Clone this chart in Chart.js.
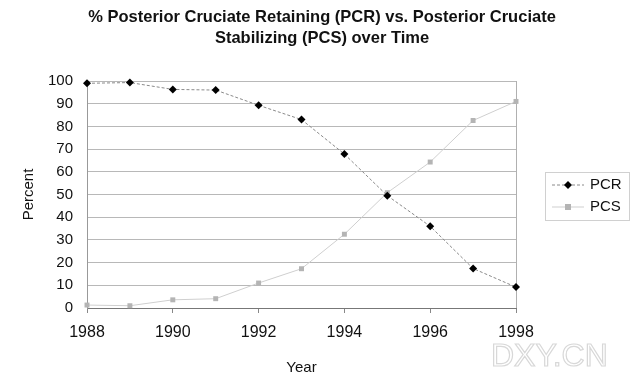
<!DOCTYPE html>
<html>
<head>
<meta charset="utf-8">
<script src="https://cdn.jsdelivr.net/npm/chart.js@4"></script>
<style>
  html, body { margin: 0; padding: 0; background: #fff; }
  #wrap { width: 640px; height: 381px; }
</style>
</head>
<body>
<div id="wrap"><canvas id="chart" width="640" height="381"></canvas></div>
<script>
// chart data
const years = [1988, 1989, 1990, 1991, 1992, 1993, 1994, 1995, 1996, 1997, 1998];
const pcrValues = [99, 99.3, 96.3, 96, 89.3, 83, 67.8, 49.5, 36, 17.4, 9.2];
const pcsValues = [1.3, 1, 3.6, 4.1, 11, 17.3, 32.5, 50.8, 64.3, 82.6, 91];
const titleLines = ["% Posterior Cruciate Retaining (PCR) vs. Posterior Cruciate", "Stabilizing (PCS) over Time"];
const seriesNames = ["PCR", "PCS"];

const FONT = "'Liberation Sans', Arial, sans-serif";

// title, legend box and watermark are drawn by hand
const extras = {
    id: "extras",
    afterDraw(chart) {
        const ctx = chart.ctx;
        ctx.save();
        // title
        ctx.fillStyle = "#111";
        ctx.font = "bold 16.5px " + FONT;
        ctx.textAlign = "center";
        ctx.textBaseline = "middle";
        ctx.fillText(titleLines[0], 322, 17);
        ctx.fillText(titleLines[1], 322, 38);

        // legend
        ctx.strokeStyle = "#d0d0d0";
        ctx.lineWidth = 1;
        ctx.strokeRect(545.5, 172.5, 84, 48);
        chart.data.datasets.forEach((ds, i) => {
            const y = 185 + i * 22;
            ctx.strokeStyle = ds.borderColor;
            ctx.setLineDash(ds.borderDash || []);
            ctx.beginPath();
            ctx.moveTo(552, y);
            ctx.lineTo(584, y);
            ctx.stroke();
            ctx.setLineDash([]);
            ctx.fillStyle = ds.pointBackgroundColor;
            if (i === 0) {
                ctx.beginPath();
                ctx.moveTo(568, y - 4);
                ctx.lineTo(572, y);
                ctx.lineTo(568, y + 4);
                ctx.lineTo(564, y);
                ctx.closePath();
                ctx.fill();
            } else {
                ctx.fillRect(565, y - 3, 6, 6);
            }
            ctx.fillStyle = "#111";
            ctx.font = "15px " + FONT;
            ctx.textAlign = "left";
            ctx.fillText(seriesNames[i], 590, y);
        });

        // watermark
        ctx.strokeStyle = "#d8d8d8";
        ctx.lineWidth = 1.2;
        ctx.font = "32px " + FONT;
        ctx.textAlign = "left";
        ctx.strokeText("DXY.CN", 491, 357);
        ctx.restore();
    }
};

new Chart(document.getElementById("chart"), {
    type: "line",
    data: {
        datasets: [
            {
                label: seriesNames[0],
                data: years.map((y, i) => ({ x: y, y: pcrValues[i] })),
                borderColor: "#8a8a8a",
                borderWidth: 1,
                borderDash: [3, 2],
                pointStyle: "rectRot",
                pointRadius: 4,
                pointBackgroundColor: "#000",
                pointBorderColor: "#000",
                pointBorderWidth: 0,
                clip: false
            },
            {
                label: seriesNames[1],
                data: years.map((y, i) => ({ x: y, y: pcsValues[i] })),
                borderColor: "#cfcfcf",
                borderWidth: 1,
                pointStyle: "rect",
                pointRadius: 3.5,
                pointBackgroundColor: "#b4b4b4",
                pointBorderColor: "#b4b4b4",
                pointBorderWidth: 0,
                clip: false
            }
        ]
    },
    options: {
        responsive: false,
        animation: false,
        layout: { padding: { top: 81, right: 124, bottom: 0, left: 0 } },
        plugins: {
            legend: { display: false },
            title: { display: false },
            tooltip: { enabled: false }
        },
        scales: {
            x: {
                type: "linear",
                min: 1988,
                max: 1998,
                ticks: {
                    stepSize: 2,
                    color: "#111",
                    font: { family: FONT, size: 16 },
                    padding: 10,
                    callback: v => String(v)
                },
                grid: {
                    color: c => (c.tick && c.tick.value === 1998 ? "#b0b0b0" : "rgba(0,0,0,0)"),
                    tickColor: "#888",
                    tickLength: 5
                },
                border: { color: "#777", width: 1 },
                title: {
                    display: true,
                    text: "Year",
                    color: "#111",
                    font: { family: FONT, size: 15 },
                    padding: { top: 12 }
                },
                afterFit: s => { s.height = 73; }
            },
            y: {
                min: 0,
                max: 100,
                ticks: {
                    stepSize: 10,
                    color: "#111",
                    font: { family: FONT, size: 15 },
                    padding: 14
                },
                grid: {
                    color: "#b8b8b8",
                    tickLength: 0
                },
                border: { color: "#999", width: 1 },
                title: {
                    display: true,
                    text: "Percent",
                    color: "#111",
                    font: { family: FONT, size: 15 },
                    padding: { top: 20, bottom: 0 }
                },
                afterFit: s => { s.width = 87; }
            }
        }
    },
    plugins: [extras]
});
</script>
</body>
</html>
